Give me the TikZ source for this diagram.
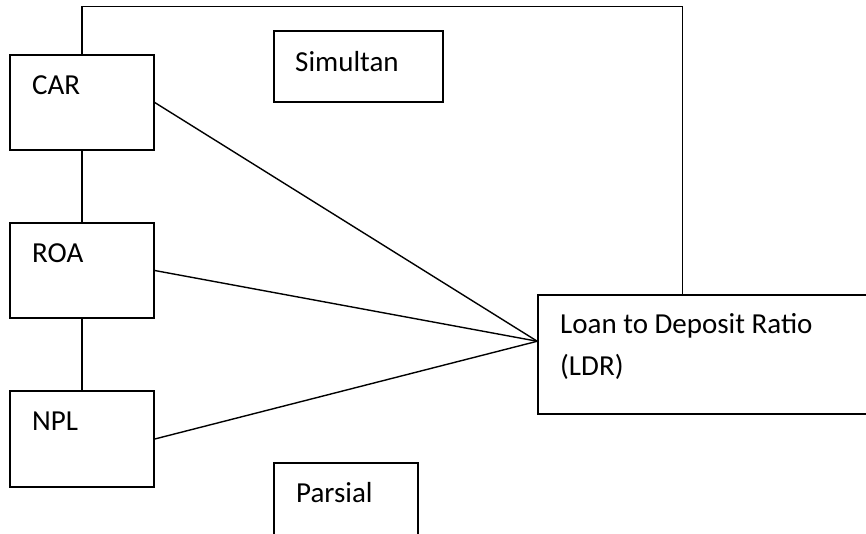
\documentclass[tikz,border=0pt]{standalone}
\usepackage{fontspec}
\setmainfont{Carlito}
\usetikzlibrary{calc,positioning}

\begin{document}
\begin{tikzpicture}[x=1pt, y=-1pt,
  box/.style={draw=black, line width=1.5pt, minimum width=144pt, minimum height=95pt, inner sep=0pt},
  lbl/.style={font=\fontsize{29}{42}\selectfont, anchor=west, inner sep=0pt, align=left},
  link/.style={draw=black, line width=1.4pt},
]
\useasboundingbox (0,0) rectangle (866,533);
\clip (0,0) rectangle (866,533);

% independent variables
\node[box] (car) at (82,102.5) {};
\node[box] (roa) at (82,270.5) {};
\node[box, minimum height=96pt] (npl) at (82,439) {};
\node[lbl] (carl) at (32,85) {CAR};
\node[lbl] (roal) at (32,253) {ROA};
\node[lbl] (nplt) at (32,421) {NPL};

% dependent variable
\node[box, minimum width=342pt, minimum height=119pt] (ldr) at (709,354.5) {};
\node[lbl] (ldrl) at (560,346) {Loan to Deposit Ratio\\(LDR)};
\coordinate (hub) at ($(ldr.north west)+(0,47)$);

% test boxes
\node[box, minimum width=169pt, minimum height=71pt] (sim) at (358.5,66.5) {};
\node[lbl] (siml) at (295,62) {Simultan};
\node[box, minimum height=100pt] (par) at (346,513) {};
\node[lbl] (parl) at (296,493) {Parsial};

% connectors
\draw[link] (car) -- (roa);
\draw[link] (roa) -- (npl);
\draw[link] (car.east) -- (hub);
\draw[link] (roa.east) -- (hub);
\draw[link] (npl.east) -- (hub);
\draw[link] (car.north) -- ++(0,-48) -| ($(ldr.north west)+(145,0)$);
\end{tikzpicture}
\end{document}
